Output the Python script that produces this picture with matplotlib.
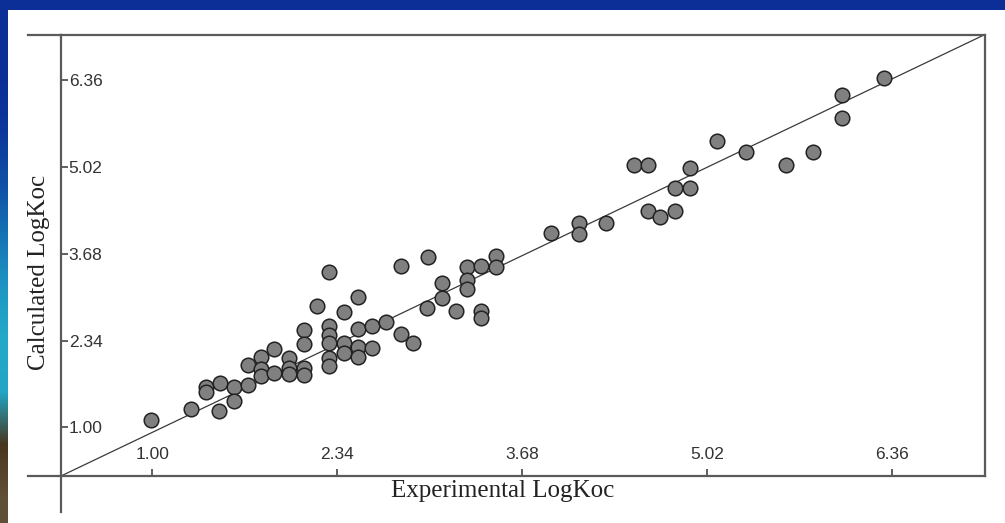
import numpy as np
import matplotlib
matplotlib.use("Agg")
import matplotlib.pyplot as plt
from matplotlib.patches import Rectangle

# experimental vs calculated LogKoc
experimental = [0.99, 1.28, 1.48, 1.39, 1.39, 1.49, 1.59, 1.59, 1.69, 1.69,
                1.79, 1.79, 1.79, 1.88, 1.88, 1.99, 1.99, 1.99, 2.10, 2.10,
                2.10, 2.10, 2.19, 2.28, 2.28, 2.28, 2.28, 2.28, 2.28, 2.39,
                2.39, 2.39, 2.49, 2.49, 2.49, 2.49, 2.59, 2.59, 2.69, 2.80,
                2.80, 2.89, 3.00, 2.99, 3.10, 3.10, 3.20, 3.28, 3.28, 3.28,
                3.38, 3.38, 3.38, 3.49, 3.49, 3.89, 4.09, 4.09, 4.29, 4.49,
                4.59, 4.59, 4.68, 4.79, 4.79, 4.90, 4.90, 5.09, 5.30, 5.59,
                5.79, 6.00, 6.00, 6.30]
calculated = [1.12, 1.29, 1.25, 1.62, 1.55, 1.69, 1.62, 1.40, 1.65, 1.96,
              2.09, 1.90, 1.79, 2.21, 1.84, 2.07, 1.91, 1.83, 1.92, 1.81,
              2.51, 2.29, 2.88, 3.40, 2.56, 2.42, 2.30, 2.07, 1.94, 2.78,
              2.30, 2.15, 3.01, 2.52, 2.24, 2.09, 2.56, 2.22, 2.63, 3.50,
              2.44, 2.30, 3.63, 2.85, 3.23, 3.00, 2.79, 3.47, 3.27, 3.13,
              3.49, 2.80, 2.69, 3.64, 3.47, 4.01, 4.15, 3.99, 4.15, 5.05,
              5.05, 4.35, 4.25, 4.35, 4.70, 4.70, 5.00, 5.43, 5.26, 5.05,
              5.26, 6.14, 5.78, 6.40]
tick_values = [1.00, 2.34, 3.68, 5.02, 6.36]
tick_labels = ["1.00", "2.34", "3.68", "5.02", "6.36"]
x_range = (0.337, 7.035)
y_range = (0.248, 7.07)

W, H = 1005, 523
fig = plt.figure(figsize=(W / 100, H / 100), dpi=100)
fig.patch.set_facecolor("#0b2f96")

# slide decoration: gradient strip on the left, white panel
strip = fig.add_axes([0, 0, 8 / W, 1])
grad = np.array([[11, 47, 150], [11, 47, 150], [12, 55, 155], [15, 80, 165],
                 [22, 115, 180], [30, 150, 195], [35, 170, 200], [35, 165, 195],
                 [70, 55, 30], [95, 80, 55]]) / 255.0
strip.imshow(grad[:, None, :], aspect="auto", interpolation="bilinear")
strip.axis("off")
fig.patches.append(Rectangle((8 / W, 0), 1 - 8 / W, 1 - 10 / H,
                             transform=fig.transFigure, facecolor="white",
                             edgecolor="none", zorder=-5))

ax = fig.add_axes([61 / W, 1 - 476 / H, 924 / W, (476 - 34.5) / H])
ax.set_zorder(2)
ax.set_facecolor("white")
ax.set_xlim(*x_range)
ax.set_ylim(*y_range)

ax.plot([x_range[0], x_range[1]], [y_range[0], y_range[1]],
        color="#3a3a3a", lw=0.9, zorder=2)
ax.scatter(experimental, calculated, s=110, facecolor="#808080",
           edgecolor="#222222", linewidths=1.1, zorder=3)

spine_col = "#5a5a5a"
for s in ax.spines.values():
    s.set_color(spine_col)
    s.set_linewidth(1.6)

# axis lines running past the box
ax.plot([-0.0357, 0], [1, 1], transform=ax.transAxes, color=spine_col,
        lw=1.6, clip_on=False)
ax.plot([-0.0357, 0], [0, 0], transform=ax.transAxes, color=spine_col,
        lw=1.6, clip_on=False)
ax.plot([0, 0], [-0.0815, 0], transform=ax.transAxes, color=spine_col,
        lw=1.6, clip_on=False)

ax.set_xticks(tick_values)
ax.set_xticklabels(tick_labels)
ax.set_yticks(tick_values)
ax.set_yticklabels(tick_labels)
ax.tick_params(axis="both", direction="in", length=5, width=1.2,
               color="#444444", labelsize=12.5, labelcolor="#333333")
ax.tick_params(axis="x", pad=-10)
ax.tick_params(axis="y", pad=-5.5)
for lab in ax.get_xticklabels():
    lab.set_family("Liberation Sans")
    lab.set_va("bottom")
for lab in ax.get_yticklabels():
    lab.set_family("Liberation Sans")
    lab.set_ha("left")

ax.set_xlabel("Experimental LogKoc", family="Liberation Serif",
              fontsize=18, color="#222222")
ax.xaxis.set_label_coords((503 - 61) / 924, -0.009)
ax.set_ylabel("Calculated LogKoc", family="Liberation Serif",
              fontsize=18, color="#222222")
ax.yaxis.set_label_coords((50 - 61) / 924, 0.462)

fig.savefig("out.png", dpi=100, facecolor=fig.get_facecolor())
